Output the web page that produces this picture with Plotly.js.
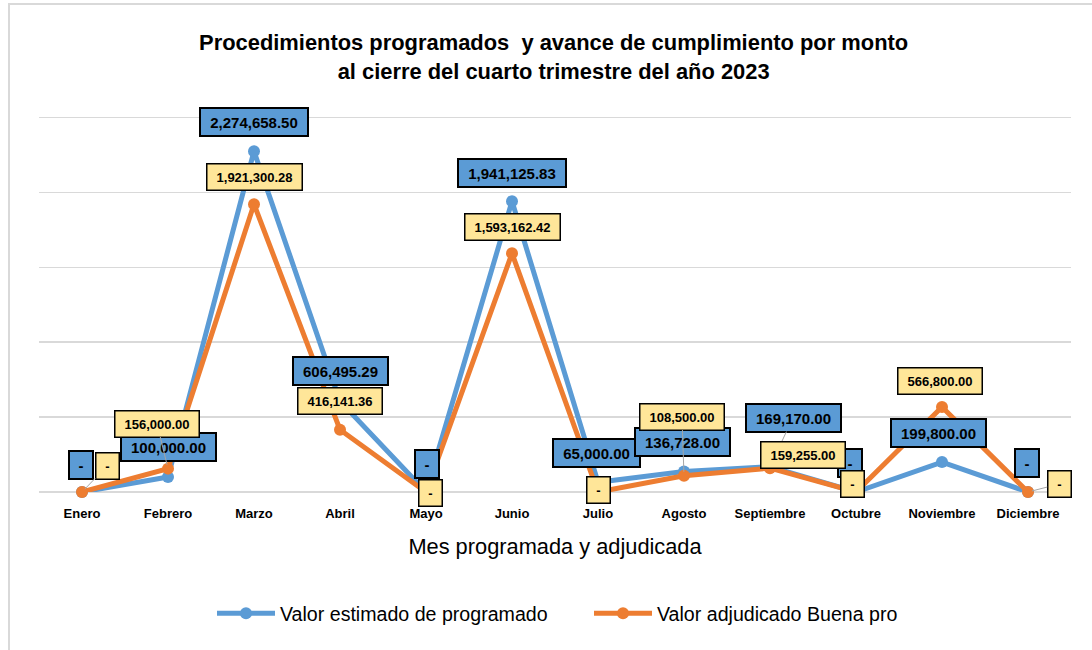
<!DOCTYPE html>
<html>
<head>
<meta charset="utf-8">
<script src="https://cdn.plot.ly/plotly-3.0.1.min.js"></script>
<style>
html,body{margin:0;padding:0;background:#fff;}
#chart{width:1092px;height:650px;}
</style>
</head>
<body>
<div id="chart"></div>
<script>
// ---- Data ----
var months = ["Enero","Febrero","Marzo","Abril","Mayo","Junio","Julio","Agosto","Septiembre","Octubre","Noviembre","Diciembre"];
var programado = [0, 100000.00, 2274658.50, 606495.29, 0, 1941125.83, 65000.00, 136728.00, 169170.00, 0, 199800.00, 0];
var adjudicado = [0, 156000.00, 1921300.28, 416141.36, 0, 1593162.42, 0, 108500.00, 159255.00, 0, 566800.00, 0];
var seriesNames = ["Valor estimado de programado", "Valor adjudicado Buena pro"];

// ---- Label placement (pixel offsets of label centre from its point; leader = draw connector) ----
var blueOff = [[-1,-27,0],[0,-30,0],[0,-29,0],[0,-30,0],[1,-28,0],[0,-28,0],[-2,-29,0],[-2,-30,0],[23,-49,1],[-6,-29,0],[-4,-29,0],[-1,-29,0]];
var orangeOff = [[25,-26,1],[-11,-45,1],[0,-27,0],[0,-29,0],[4,1,0],[0,-26,0],[0,-2,0],[-2,-59,1],[33,-13,0],[-4,-8,0],[-2,-26,0],[31,-8,1]];

var FONT = "Liberation Sans, Arial, sans-serif";
var BLUE = "#5b9bd5", ORANGE = "#ed7d31", YELLOW = "#ffe699";

function fmt(v){
  if (v === 0) return "-";
  return v.toLocaleString("en-US",{minimumFractionDigits:2, maximumFractionDigits:2});
}
var cv = document.createElement("canvas").getContext("2d");
function tw(txt, size){
  cv.font = "bold " + size + "px " + FONT;
  return cv.measureText(txt).width;
}

var annotations = [];
function addLabels(vals, offs, size, bg, bw, h){
  vals.forEach(function(v, i){
    var t = fmt(v);
    var w = (t === "-") ? 16 : Math.round(tw(t, size) + 12);
    var o = offs[i];
    var a = {
      x: months[i], y: v, xref: "x", yref: "y",
      text: t,
      font: {family: FONT, size: size, color: "#000", weight: 700},
      bgcolor: bg, bordercolor: "#000", borderwidth: bw, borderpad: 3,
      width: w, height: h, align: "center", valign: "middle"
    };
    if (o[2]) {
      a.showarrow = true; a.ax = o[0]; a.ay = o[1];
      a.arrowhead = 0; a.arrowwidth = 1; a.arrowcolor = "#a6a6a6"; a.standoff = 4;
    } else {
      a.showarrow = false; a.xshift = o[0]; a.yshift = -o[1];
    }
    annotations.push(a);
  });
}
addLabels(programado, blueOff, 15, BLUE, 2, 20);
addLabels(adjudicado, orangeOff, 13, YELLOW, 1.5, 19);

var traces = [
  {x: months, y: programado, name: seriesNames[0], type: "scatter", mode: "lines+markers",
   line: {color: BLUE, width: 5}, marker: {color: BLUE, size: 12}, cliponaxis: false},
  {x: months, y: adjudicado, name: seriesNames[1], type: "scatter", mode: "lines+markers",
   line: {color: ORANGE, width: 5}, marker: {color: ORANGE, size: 12}, cliponaxis: false}
];

var layout = {
  width: 1092, height: 650,
  margin: {l: 39, r: 21, t: 116, b: 158},
  paper_bgcolor: "#fff", plot_bgcolor: "#fff",
  font: {family: FONT, color: "#000"},
  title: {
    text: "Procedimientos programados \u00a0y avance de cumplimiento por monto<br>al cierre del cuarto trimestre del año 2023",
    font: {family: FONT, size: 21.9, color: "#000", weight: 700},
    x: 0.507, xref: "container", xanchor: "center",
    y: 0.923, yref: "container", yanchor: "middle"
  },
  xaxis: {
    type: "category", range: [-0.5, 11.5], showgrid: false, zeroline: false, showline: false,
    ticks: "", tickfont: {family: FONT, size: 13, color: "#000", weight: 700},
    ticklabelstandoff: 12,
    title: {text: "Mes programada y adjudicada", font: {family: FONT, size: 21.8, color: "#000"}, standoff: 18}
  },
  yaxis: {
    range: [0, 2510000], dtick: 500000, tick0: 0,
    showticklabels: false, ticks: "",
    showgrid: true, gridcolor: "#d9d9d9", gridwidth: 1.5,
    zeroline: true, zerolinecolor: "#d9d9d9", zerolinewidth: 1.5, showline: false
  },
  showlegend: true,
  legend: {
    orientation: "h", x: (212-39)/1032, xanchor: "left", y: -0.323, yanchor: "middle",
    font: {family: FONT, size: 19.6, color: "#000"}, itemwidth: 58,
    entrywidth: 304, entrywidthmode: "pixels"
  },
  annotations: annotations,
  shapes: [
    {type: "line", xref: "paper", yref: "paper", x0: (9-39)/1032, x1: (9-39)/1032, y0: (492-3)/376, y1: (492-660)/376,
     line: {color: "#d9d9d9", width: 2}},
    {type: "line", xref: "paper", yref: "paper", x0: (9-39)/1032, x1: (1100-39)/1032, y0: (492-4)/376, y1: (492-4)/376,
     line: {color: "#d9d9d9", width: 2}}
  ]
};

Plotly.newPlot("chart", traces, layout, {displayModeBar: false, staticPlot: true});
</script>
</body>
</html>
